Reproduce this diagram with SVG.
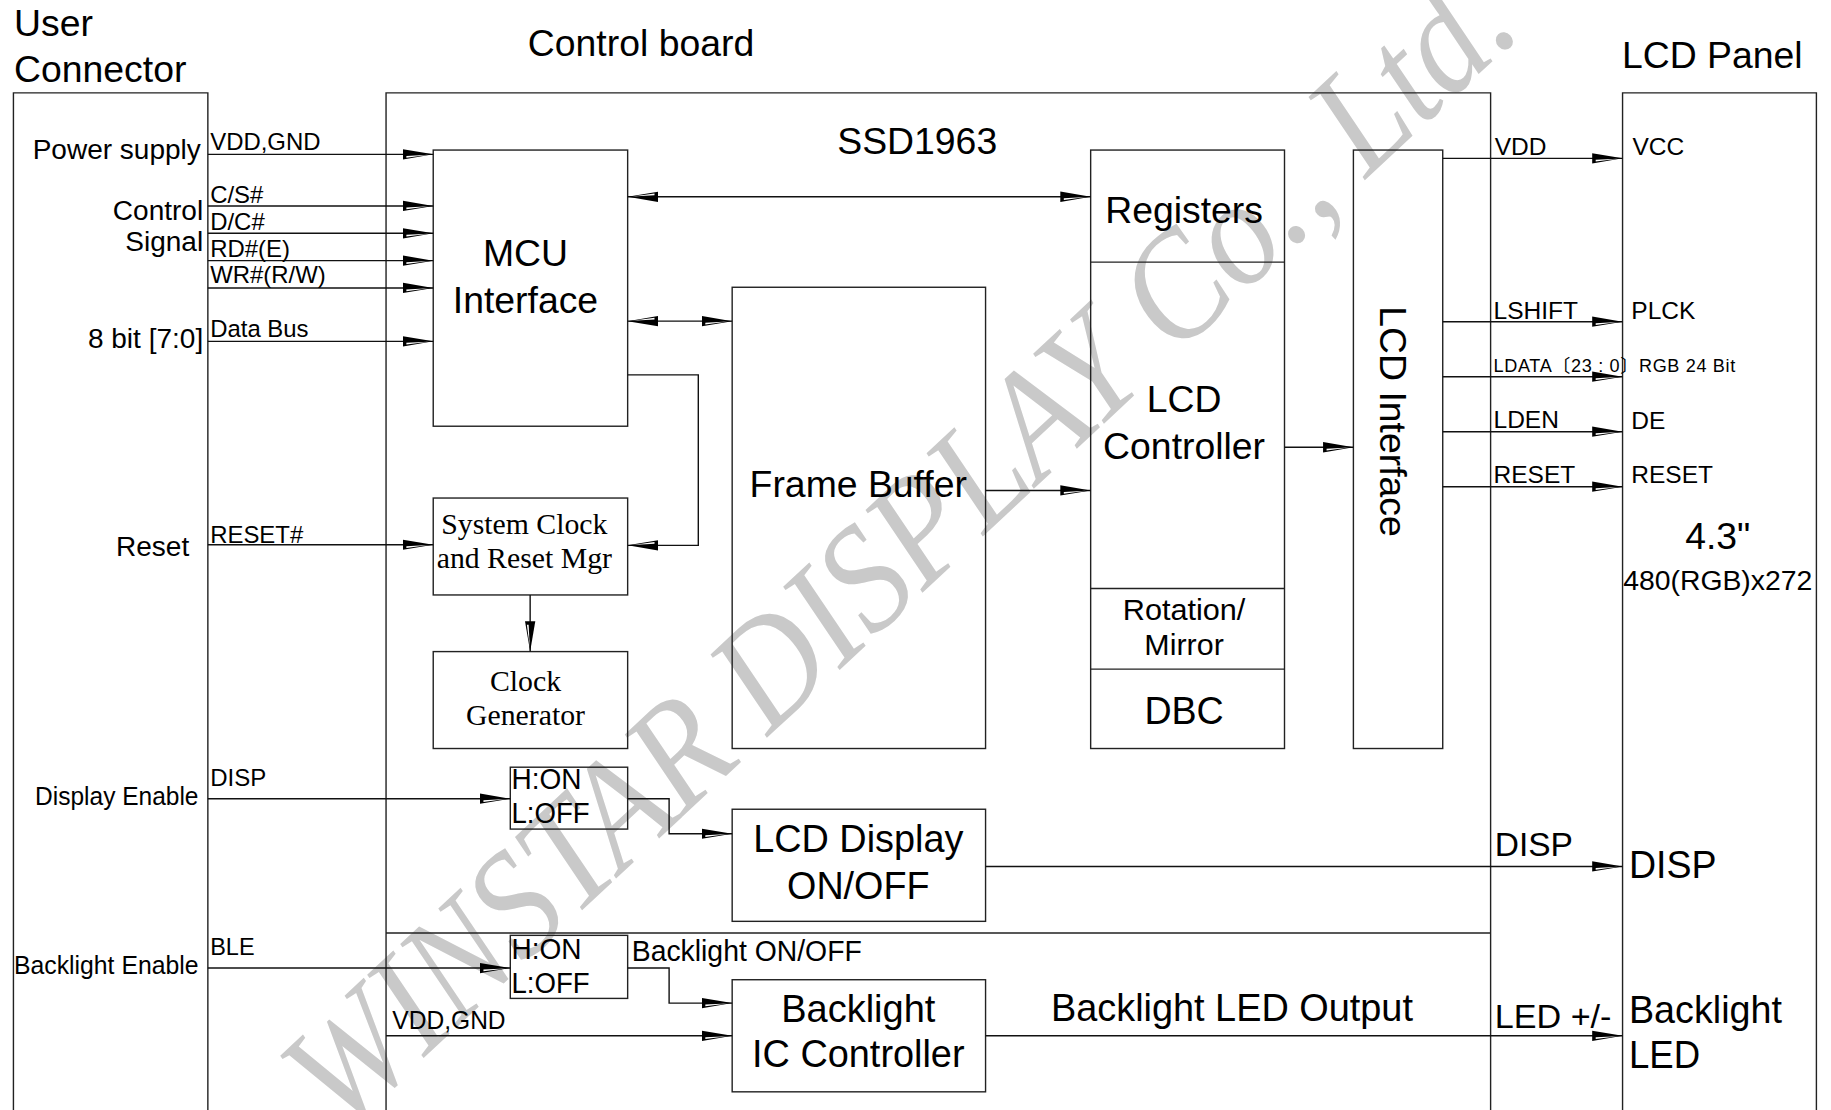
<svg xmlns="http://www.w3.org/2000/svg" width="1831" height="1110" viewBox="0 0 1831 1110">
<style>
.bx{fill:none;stroke:#222;stroke-width:1.2}
.ln{fill:none;stroke:#111;stroke-width:1.2}
.s{font-family:"Liberation Sans",Arial,sans-serif;fill:#000}
.r{font-family:"Liberation Serif","Times New Roman",serif;fill:#000}
.n{font-family:"Liberation Sans Narrow","Liberation Sans",Arial,sans-serif;fill:#000}
.m{text-anchor:middle}
.e{text-anchor:end}
.wm{font-family:"Liberation Serif","Times New Roman",serif;font-style:italic;fill:#c9c9c9}
</style>
<defs>
<marker id="ar" markerUnits="userSpaceOnUse" markerWidth="28" markerHeight="12" refX="26" refY="5" orient="auto-start-reverse" viewBox="0 0 28 10">
<path d="M0,0.6 L26,5 L0,9.4 Z" fill="#000"/>
<path d="M3,6.3 L22,5.3 L3,7.8 Z" fill="#fff"/>
</marker>
</defs>
<rect width="1831" height="1110" fill="#fff"/>
<g transform="scale(1.16773)">
<g id="watermark">
<text class="wm" x="0" y="0" font-size="130" textLength="1385" lengthAdjust="spacingAndGlyphs" transform="translate(292,972) rotate(-43)">WINSTAR DISPLAY Co., Ltd.</text>
</g>
<g id="titles">
<text class="s" x="12" y="31" font-size="32">User</text>
<text class="s" x="12" y="70" font-size="32">Connector</text>
<text class="s" x="452" y="48" font-size="32">Control board</text>
<text class="s" x="1389" y="58" font-size="32">LCD Panel</text>
</g>
<g id="user-connector">
<path class="bx" d="M11.5,960 V79.5 H178 V960"/>
<text class="s e" x="172" y="136" font-size="24">Power supply</text>
<text class="s e" x="174" y="188.5" font-size="24">Control</text>
<text class="s e" x="174" y="215" font-size="24">Signal</text>
<text class="s e" x="174" y="298" font-size="24">8 bit [7:0]</text>
<text class="s e" x="162" y="476" font-size="24">Reset</text>
<text class="n e" x="170" y="689" font-size="22" textLength="140" lengthAdjust="spacingAndGlyphs">Display Enable</text>
<text class="n" x="12" y="834" font-size="22" textLength="158" lengthAdjust="spacingAndGlyphs">Backlight Enable</text>
</g>
<g id="control-board">
<path class="bx" d="M330.6,960 V79.5 H1276.5 V960 M330.6,799 H1276.5"/>
<text class="s" x="717" y="132" font-size="32">SSD1963</text>
</g>
<g id="lcd-panel">
<path class="bx" d="M1389.5,960 V79.5 H1555.5 V960"/>
<text class="s" x="1398" y="133" font-size="21">VCC</text>
<text class="s" x="1397" y="273" font-size="21">PLCK</text>
<text class="s" x="1397" y="367" font-size="21">DE</text>
<text class="s" x="1397" y="414" font-size="21">RESET</text>
<text class="s m" x="1471" y="470" font-size="32">4.3"</text>
<text class="n" x="1390" y="505" font-size="24" textLength="162" lengthAdjust="spacingAndGlyphs">480(RGB)x272</text>
<text class="n" x="1395" y="752" font-size="33" textLength="75" lengthAdjust="spacingAndGlyphs">DISP</text>
<text class="n" x="1395" y="876" font-size="33" textLength="131" lengthAdjust="spacingAndGlyphs">Backlight</text>
<text class="n" x="1395" y="915" font-size="33" textLength="61" lengthAdjust="spacingAndGlyphs">LED</text>
</g>
<g id="mcu-interface">
<rect class="bx" x="371" y="128.5" width="166.5" height="236.5"/>
<text class="s m" x="450" y="228" font-size="32">MCU</text>
<text class="s m" x="450" y="268" font-size="32">Interface</text>
</g>
<g id="sys-clock">
<rect class="bx" x="371" y="426.5" width="166.5" height="83"/>
<text class="r m" x="449" y="457.5" font-size="25.5">System Clock</text>
<text class="r m" x="449" y="486" font-size="25.5">and Reset Mgr</text>
</g>
<g id="clock-gen">
<rect class="bx" x="371" y="558" width="166.5" height="83"/>
<text class="r m" x="450" y="591.5" font-size="25.5">Clock</text>
<text class="r m" x="450" y="621" font-size="25.5">Generator</text>
</g>
<g id="frame-buffer">
<rect class="bx" x="627" y="246" width="217" height="395"/>
<text class="s m" x="735" y="426" font-size="32">Frame Buffer</text>
</g>
<g id="lcd-controller">
<rect class="bx" x="934" y="128.5" width="166" height="512.5"/>
<path class="bx" d="M934,224.5 H1100 M934,504 H1100 M934,573 H1100"/>
<text class="s m" x="1014" y="191" font-size="32">Registers</text>
<text class="s m" x="1014" y="353" font-size="32">LCD</text>
<text class="s m" x="1014" y="393" font-size="32">Controller</text>
<text class="n m" x="1014" y="531" font-size="25" textLength="105" lengthAdjust="spacingAndGlyphs">Rotation/</text>
<text class="n m" x="1014" y="561" font-size="25" textLength="68" lengthAdjust="spacingAndGlyphs">Mirror</text>
<text class="n m" x="1014" y="620" font-size="33" textLength="68" lengthAdjust="spacingAndGlyphs">DBC</text>
</g>
<g id="lcd-interface">
<rect class="bx" x="1159" y="128.5" width="76.5" height="512.5"/>
<text class="s m" x="0" y="0" font-size="32" transform="translate(1182,361) rotate(90)">LCD Interface</text>
</g>
<g id="disp-switch">
<rect class="bx" x="437" y="657" width="100.5" height="53"/>
<text class="n" x="438" y="676" font-size="26" textLength="60" lengthAdjust="spacingAndGlyphs">H:ON</text>
<text class="n" x="438" y="705" font-size="26" textLength="67" lengthAdjust="spacingAndGlyphs">L:OFF</text>
</g>
<g id="lcd-display">
<rect class="bx" x="627" y="693" width="217" height="96"/>
<text class="n m" x="735" y="730" font-size="33" textLength="180" lengthAdjust="spacingAndGlyphs">LCD Display</text>
<text class="n m" x="735" y="770" font-size="33" textLength="122" lengthAdjust="spacingAndGlyphs">ON/OFF</text>
</g>
<g id="bl-switch">
<rect class="bx" x="437" y="801" width="100.5" height="54"/>
<text class="n" x="438" y="821" font-size="26" textLength="60" lengthAdjust="spacingAndGlyphs">H:ON</text>
<text class="n" x="438" y="850" font-size="26" textLength="67" lengthAdjust="spacingAndGlyphs">L:OFF</text>
</g>
<g id="backlight-ic">
<rect class="bx" x="627" y="839" width="217" height="96"/>
<text class="n m" x="735" y="875" font-size="33" textLength="132" lengthAdjust="spacingAndGlyphs">Backlight</text>
<text class="n m" x="735" y="914" font-size="33" textLength="182" lengthAdjust="spacingAndGlyphs">IC Controller</text>
</g>
<g id="connectors">
<path class="ln" marker-end="url(#ar)" d="M178,132.2 H371"/>
<path class="ln" marker-end="url(#ar)" d="M178,176.4 H371"/>
<path class="ln" marker-end="url(#ar)" d="M178,199.8 H371"/>
<path class="ln" marker-end="url(#ar)" d="M178,223.2 H371"/>
<path class="ln" marker-end="url(#ar)" d="M178,246.6 H371"/>
<path class="ln" marker-end="url(#ar)" d="M178,292.3 H371"/>
<path class="ln" marker-start="url(#ar)" marker-end="url(#ar)" d="M537.5,168.5 H934"/>
<path class="ln" marker-start="url(#ar)" marker-end="url(#ar)" d="M537.5,275 H627"/>
<path class="ln" marker-end="url(#ar)" d="M537.5,321 H598 V467 H537.5"/>
<path class="ln" marker-end="url(#ar)" d="M178,466.5 H371"/>
<path class="ln" marker-end="url(#ar)" d="M454,509.5 V558"/>
<path class="ln" marker-end="url(#ar)" d="M844,420 H934"/>
<path class="ln" marker-end="url(#ar)" d="M1100,383 H1159"/>
<path class="ln" marker-end="url(#ar)" d="M1235.5,135.6 H1389.5"/>
<path class="ln" marker-end="url(#ar)" d="M1235.5,275.5 H1389.5"/>
<path class="ln" marker-end="url(#ar)" d="M1235.5,322.6 H1389.5"/>
<path class="ln" marker-end="url(#ar)" d="M1235.5,369.7 H1389.5"/>
<path class="ln" marker-end="url(#ar)" d="M1235.5,416.8 H1389.5"/>
<path class="ln" marker-end="url(#ar)" d="M178,684 H437"/>
<path class="ln" marker-end="url(#ar)" d="M537.5,684 H573 V714 H627"/>
<path class="ln" marker-end="url(#ar)" d="M844,742 H1389.5"/>
<path class="ln" marker-end="url(#ar)" d="M178,829 H437"/>
<path class="ln" marker-end="url(#ar)" d="M537.5,829 H573 V859 H627"/>
<path class="ln" marker-end="url(#ar)" d="M330.6,887 H627"/>
<path class="ln" marker-end="url(#ar)" d="M844,887 H1389.5"/>
</g>
<g id="connector-labels">
<text class="s" x="180" y="128.5" font-size="20.5">VDD,GND</text>
<text class="s" x="180" y="173.5" font-size="20.5">C/S#</text>
<text class="s" x="180" y="197" font-size="20.5">D/C#</text>
<text class="s" x="180" y="219.8" font-size="20.5">RD#(E)</text>
<text class="s" x="180" y="242.6" font-size="20.5">WR#(R/W)</text>
<text class="s" x="180" y="289" font-size="20.5">Data Bus</text>
<text class="s" x="180" y="465" font-size="20.5">RESET#</text>
<text class="n" x="180" y="673" font-size="21" textLength="48" lengthAdjust="spacingAndGlyphs">DISP</text>
<text class="n" x="180" y="818" font-size="21" textLength="38" lengthAdjust="spacingAndGlyphs">BLE</text>
<text class="s" x="1280" y="133" font-size="21">VDD</text>
<text class="s" x="1279" y="273.5" font-size="21">LSHIFT</text>
<text x="1279" y="318.5" font-size="15.5" textLength="207" lengthAdjust="spacing" style="font-family:'Liberation Sans','Noto Sans CJK SC',sans-serif">LDATA〔23 : 0〕RGB 24 Bit</text>
<text class="s" x="1279" y="366.5" font-size="21">LDEN</text>
<text class="s" x="1279" y="413.5" font-size="21">RESET</text>
<text class="n" x="541" y="823" font-size="25" textLength="197" lengthAdjust="spacingAndGlyphs">Backlight ON/OFF</text>
<text class="n" x="336" y="881" font-size="22" textLength="97" lengthAdjust="spacingAndGlyphs">VDD,GND</text>
<text class="n" x="1280" y="733" font-size="28" textLength="67" lengthAdjust="spacingAndGlyphs">DISP</text>
<text class="n" x="900" y="874" font-size="33" textLength="310" lengthAdjust="spacingAndGlyphs">Backlight LED Output</text>
<text class="n" x="1280" y="880" font-size="28" textLength="100" lengthAdjust="spacingAndGlyphs">LED +/-</text>
</g>
</g>
</svg>
